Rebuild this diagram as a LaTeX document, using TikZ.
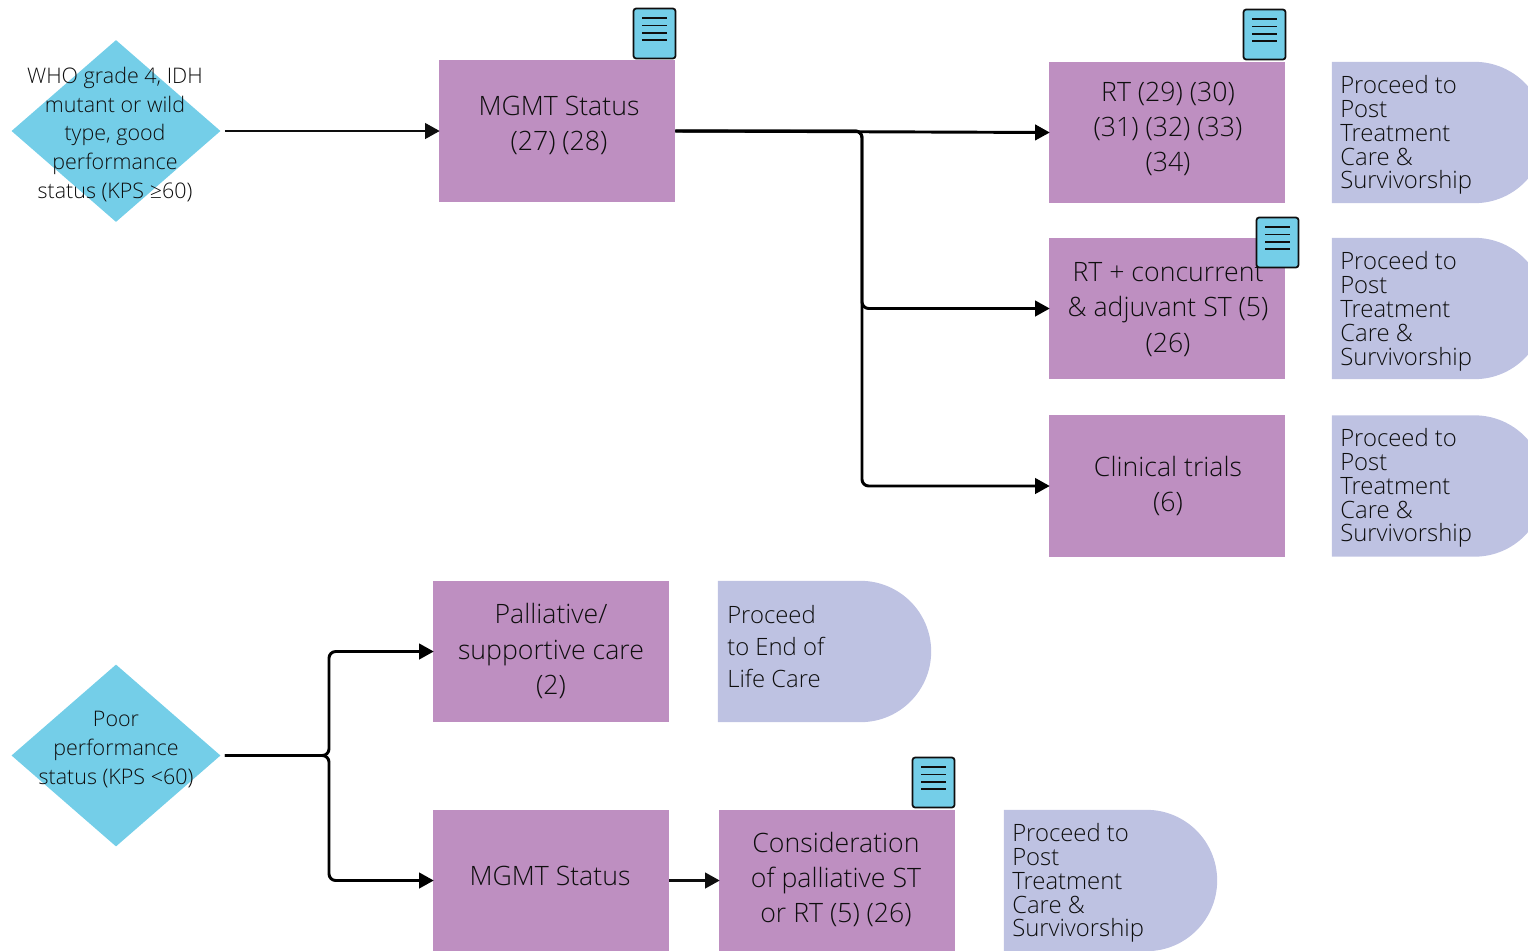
\documentclass[tikz,border=0pt]{standalone}
\usepackage{fontspec}
\setmainfont{Open Sans}[UprightFont=* Light]
\usetikzlibrary{arrows.meta,shapes.geometric,shapes.misc}
\definecolor{boxp}{HTML}{BE8FC1}
\definecolor{diab}{HTML}{74CEE8}
\definecolor{termb}{HTML}{BEC2E2}
\definecolor{inkc}{HTML}{0E0E0E}
\tikzset{
  boxn/.style={rectangle,fill=boxp,minimum width=177pt,minimum height=106pt,inner sep=0pt},
  dian/.style={diamond,fill=diab,aspect=1.14,minimum width=156.8pt,minimum height=136.5pt,inner sep=0pt},
  termn/.style={rounded rectangle,rounded rectangle left arc=none,fill=termb,minimum width=160pt,minimum height=106pt,inner sep=0pt},
  boxt/.style={align=center,text=inkc,inner sep=0pt,font=\fontsize{20}{26.5}\selectfont},
  diat/.style={align=center,text=inkc,inner sep=0pt,font=\fontsize{16.1}{21.5}\selectfont},
  termt/.style={align=left,anchor=west,text=inkc,inner sep=0pt,font=\fontsize{17.9}{17.9}\selectfont},
  termw/.style={align=left,anchor=west,text=inkc,inner sep=0pt,font=\fontsize{17.9}{24}\selectfont},
  conn/.style={draw=black,line width=2.2pt,rounded corners=5pt,shorten >=-0.8pt,-{Triangle[length=11pt,width=11.5pt]}},
  thinconn/.style={draw=inkc,line width=2.2pt,shorten >=-0.8pt,-{Triangle[length=11pt,width=11.5pt]}},
  docn/.style={rectangle,rounded corners=2pt,draw=inkc,line width=1.3pt,fill=diab,minimum width=31.5pt,minimum height=37.5pt,inner sep=0pt,
    path picture={
      \foreach \dy in {-11.5,-5.9,-0.5,5}{
        \draw[inkc,line width=1.1pt] ([xshift=-9.2pt,yshift=-\dy pt]path picture bounding box.center) -- ([xshift=9.2pt,yshift=-\dy pt]path picture bounding box.center);
      }
    }},
}
\begin{document}
\begin{tikzpicture}[x=0.75pt,y=-0.75pt]
\useasboundingbox (0,0) rectangle (1528,950);
\clip (0,0) rectangle (1528,950);
% diamonds
\node[dian] (d1) at (116,131) {};
\node[dian] (d2) at (116,755.5) {};
\node[diat] (d1t) at (115,134.5) {WHO grade 4, IDH\\mutant or wild\\type, good\\performance\\status (KPS ≥60)};
\node[diat] (d2t) at (116,749.5) {Poor\\performance\\status (KPS <60)};
% boxes
\node[boxn] (m1) at (557,131) {};
\node[boxn] (rt) at (1167,132.5) {};
\node[boxn] (rtc) at (1167,308.5) {};
\node[boxn] (ct) at (1167,486) {};
\node[boxn] (pal) at (551,651.5) {};
\node[boxn] (m2) at (551,880.5) {};
\node[boxn] (con) at (837,880.5) {};
\node[boxt] (m1t) at (559,125.5) {MGMT Status\\(27) (28)};
\node[boxt] (rtt) at (1168,129) {RT (29) (30)\\(31) (32) (33)\\(34)};
\node[boxt] (rtct) at (1168,309.5) {RT + concurrent\\\& adjuvant ST (5)\\(26)};
\node[boxt] (ctt) at (1168,486) {Clinical trials\\(6)};
\node[boxt] (palt) at (551,651) {Palliative/\\supportive care\\(2)};
\node[boxt] (m2t) at (550,876) {MGMT Status};
\node[boxt] (cont) at (836,879.5) {Consideration\\of palliative ST\\or RT (5) (26)};
% terminators
\node[termn] (e1) at (1438.5,132.5) {};
\node[termn] (e2) at (1438.5,308.5) {};
\node[termn] (e3) at (1438.5,486) {};
\node[termn] (e4) at (824.5,651.5) {};
\node[termn] (e5) at (1110.5,880.5) {};
\node[termt] (e1t) at (1340,135) {Proceed to\\Post\\Treatment\\Care \&\\Survivorship};
\node[termt] (e2t) at (1340,311.5) {Proceed to\\Post\\Treatment\\Care \&\\Survivorship};
\node[termt] (e3t) at (1340,488) {Proceed to\\Post\\Treatment\\Care \&\\Survivorship};
\node[termw] (e4t) at (727,647) {Proceed\\to End of\\Life Care};
\node[termt] (e5t) at (1012,883) {Proceed to\\Post\\Treatment\\Care \&\\Survivorship};
% doc icons
\node[docn] (i1) at (654.5,33.5) {};
\node[docn] (i2) at (1264.5,34.5) {};
\node[docn] (i3) at (1277.5,242.5) {};
\node[docn] (i4) at (933.5,782.5) {};
% connectors
\coordinate (bus1) at (862,131);
\coordinate (bus2) at (329,755.5);
\draw[thinconn,shorten <=3pt] (d1.east) -- (m1.west);
\draw[conn] (m1.east) -- (rt.west);
\draw[conn] (m1.east) -- (bus1) |- (rtc.west);
\draw[conn] (m1.east) -- (bus1) |- (ct.west);
\draw[conn,shorten <=3pt] (d2.east) -- (bus2) |- (pal.west);
\draw[conn,shorten <=3pt] (d2.east) -- (bus2) |- (m2.west);
\draw[thinconn] (m2.east) -- (con.west);
\end{tikzpicture}
\end{document}
